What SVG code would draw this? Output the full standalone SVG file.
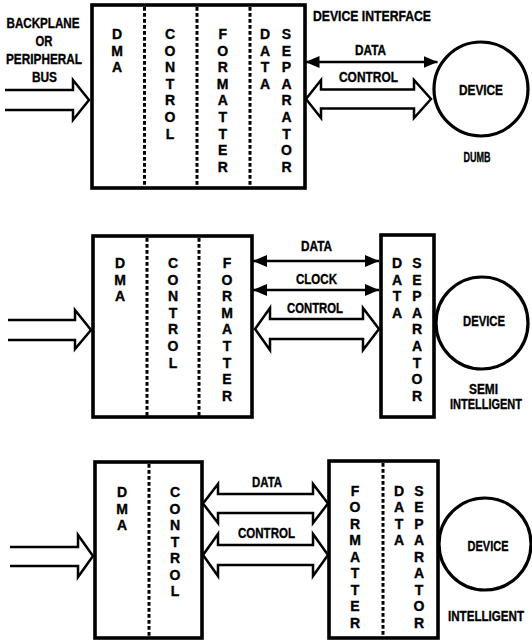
<svg xmlns="http://www.w3.org/2000/svg" width="532" height="643" viewBox="0 0 532 643">
<style>
text{font-family:"Liberation Sans Narrow","Liberation Sans",Arial,sans-serif;font-weight:bold;font-size:14px;fill:#000;stroke:#000;stroke-width:0.35;text-anchor:middle}
.box{fill:#fff;stroke:#000;stroke-width:3.6}
.dash{stroke:#000;stroke-width:3;stroke-dasharray:3.8 2.2;fill:none}
.ln{stroke:#000;stroke-width:2.6;fill:none}
.hol{fill:#fff;stroke:#000;stroke-width:2.5;stroke-linejoin:miter}
.dev{fill:#fff;stroke:#000;stroke-width:3.2}
</style>
<defs>
<marker id="ah" markerUnits="userSpaceOnUse" markerWidth="14" markerHeight="12" refX="14" refY="6" orient="auto-start-reverse">
<path d="M0,0 L14,6 L0,12 z" fill="#000"/>
</marker>
</defs>
<rect width="532" height="643" fill="#fff"/>

<!-- Panel 1 -->
<g id="bus-label-1">
<text x="43" y="27.5" textLength="73" lengthAdjust="spacingAndGlyphs">BACKPLANE</text>
<text x="44" y="46" textLength="17" lengthAdjust="spacingAndGlyphs">OR</text>
<text x="44" y="63.5" textLength="76" lengthAdjust="spacingAndGlyphs">PERIPHERAL</text>
<text x="44.5" y="81.5" textLength="25" lengthAdjust="spacingAndGlyphs">BUS</text>
</g>
<g id="controller-1">
<rect class="box" x="92" y="5" width="213" height="183"/>
<line class="dash" x1="144.5" y1="7" x2="144.5" y2="187"/>
<line class="dash" x1="197" y1="7" x2="197" y2="187"/>
<line class="dash" x1="250" y1="7" x2="250" y2="187"/>
<text><tspan x="117" y="39">D</tspan><tspan x="117" y="55.6">M</tspan><tspan x="117" y="72.2">A</tspan></text>
<text><tspan x="170" y="39">C</tspan><tspan x="170" y="55.6">O</tspan><tspan x="170" y="72.2">N</tspan><tspan x="170" y="88.8">T</tspan><tspan x="170" y="105.4">R</tspan><tspan x="170" y="122">O</tspan><tspan x="170" y="138.6">L</tspan></text>
<text><tspan x="222.7" y="39">F</tspan><tspan x="222.7" y="55.6">O</tspan><tspan x="222.7" y="72.2">R</tspan><tspan x="222.7" y="88.8">M</tspan><tspan x="222.7" y="105.4">A</tspan><tspan x="222.7" y="122">T</tspan><tspan x="222.7" y="138.6">T</tspan><tspan x="222.7" y="155.2">E</tspan><tspan x="222.7" y="171.8">R</tspan></text>
<text><tspan x="265" y="39">D</tspan><tspan x="265" y="55.6">A</tspan><tspan x="265" y="72.2">T</tspan><tspan x="265" y="88.8">A</tspan></text>
<text><tspan x="286.5" y="39">S</tspan><tspan x="286.5" y="55.6">E</tspan><tspan x="286.5" y="72.2">P</tspan><tspan x="286.5" y="88.8">A</tspan><tspan x="286.5" y="105.4">R</tspan><tspan x="286.5" y="122">A</tspan><tspan x="286.5" y="138.6">T</tspan><tspan x="286.5" y="155.2">O</tspan><tspan x="286.5" y="171.8">R</tspan></text>
</g>
<g id="device-1">
<circle class="dev" cx="481" cy="89" r="47"/>
<text x="481" y="95" textLength="44" lengthAdjust="spacingAndGlyphs">DEVICE</text>
<text x="477" y="162" textLength="27" lengthAdjust="spacingAndGlyphs">DUMB</text>
</g>
<g id="labels-1">
<text x="372" y="21" textLength="118" lengthAdjust="spacingAndGlyphs">DEVICE INTERFACE</text>
<text x="370.5" y="54.5" textLength="31" lengthAdjust="spacingAndGlyphs">DATA</text>
<text x="368.5" y="81.5" textLength="59" lengthAdjust="spacingAndGlyphs">CONTROL</text>
</g>

<!-- Panel 2 -->
<g id="controller-2">
<rect class="box" x="93" y="236" width="159" height="181"/>
<line class="dash" x1="147" y1="238" x2="147" y2="416"/>
<line class="dash" x1="199" y1="238" x2="199" y2="416"/>
<text><tspan x="120" y="268">D</tspan><tspan x="120" y="284.6">M</tspan><tspan x="120" y="301.2">A</tspan></text>
<text><tspan x="173" y="268">C</tspan><tspan x="173" y="284.6">O</tspan><tspan x="173" y="301.2">N</tspan><tspan x="173" y="317.8">T</tspan><tspan x="173" y="334.4">R</tspan><tspan x="173" y="351">O</tspan><tspan x="173" y="367.6">L</tspan></text>
<text><tspan x="227" y="268">F</tspan><tspan x="227" y="284.6">O</tspan><tspan x="227" y="301.2">R</tspan><tspan x="227" y="317.8">M</tspan><tspan x="227" y="334.4">A</tspan><tspan x="227" y="351">T</tspan><tspan x="227" y="367.6">T</tspan><tspan x="227" y="384.2">E</tspan><tspan x="227" y="400.8">R</tspan></text>
</g>
<g id="separator-2">
<rect class="box" x="381" y="235" width="53" height="182"/>
<text><tspan x="397" y="268">D</tspan><tspan x="397" y="284.6">A</tspan><tspan x="397" y="301.2">T</tspan><tspan x="397" y="317.8">A</tspan></text>
<text><tspan x="417" y="268">S</tspan><tspan x="417" y="284.6">E</tspan><tspan x="417" y="301.2">P</tspan><tspan x="417" y="317.8">A</tspan><tspan x="417" y="334.4">R</tspan><tspan x="417" y="351">A</tspan><tspan x="417" y="367.6">T</tspan><tspan x="417" y="384.2">O</tspan><tspan x="417" y="400.8">R</tspan></text>
</g>
<g id="device-2">
<circle class="dev" cx="482" cy="323" r="46"/>
<text x="484" y="326" textLength="42" lengthAdjust="spacingAndGlyphs">DEVICE</text>
<text x="483.5" y="393.5" textLength="29" lengthAdjust="spacingAndGlyphs">SEMI</text>
<text x="486" y="409" textLength="72" lengthAdjust="spacingAndGlyphs">INTELLIGENT</text>
</g>
<g id="labels-2">
<text x="316.5" y="250.5" textLength="31" lengthAdjust="spacingAndGlyphs">DATA</text>
<text x="316.5" y="283.5" textLength="41" lengthAdjust="spacingAndGlyphs">CLOCK</text>
<text x="315" y="312.5" textLength="56" lengthAdjust="spacingAndGlyphs">CONTROL</text>
</g>

<!-- Panel 3 -->
<g id="controller-3">
<rect class="box" x="95" y="462" width="107" height="176"/>
<line class="dash" x1="149" y1="464" x2="149" y2="637"/>
<text><tspan x="122" y="497">D</tspan><tspan x="122" y="513.5">M</tspan><tspan x="122" y="530">A</tspan></text>
<text><tspan x="175" y="497">C</tspan><tspan x="175" y="513.5">O</tspan><tspan x="175" y="530">N</tspan><tspan x="175" y="546.5">T</tspan><tspan x="175" y="563">R</tspan><tspan x="175" y="579.5">O</tspan><tspan x="175" y="596">L</tspan></text>
</g>
<g id="formatter-3">
<rect class="box" x="329" y="461" width="109" height="177"/>
<line class="dash" x1="383" y1="463" x2="383" y2="637"/>
<text><tspan x="355" y="495.5">F</tspan><tspan x="355" y="512">O</tspan><tspan x="355" y="528.5">R</tspan><tspan x="355" y="545">M</tspan><tspan x="355" y="561.5">A</tspan><tspan x="355" y="578">T</tspan><tspan x="355" y="594.5">T</tspan><tspan x="355" y="611">E</tspan><tspan x="355" y="627.5">R</tspan></text>
<text><tspan x="399" y="495.5">D</tspan><tspan x="399" y="512">A</tspan><tspan x="399" y="528.5">T</tspan><tspan x="399" y="545">A</tspan></text>
<text><tspan x="419" y="495.5">S</tspan><tspan x="419" y="512">E</tspan><tspan x="419" y="528.5">P</tspan><tspan x="419" y="545">A</tspan><tspan x="419" y="561.5">R</tspan><tspan x="419" y="578">A</tspan><tspan x="419" y="594.5">T</tspan><tspan x="419" y="611">O</tspan><tspan x="419" y="627.5">R</tspan></text>
</g>
<g id="device-3">
<circle class="dev" cx="485" cy="544" r="46"/>
<text x="488" y="551" textLength="41" lengthAdjust="spacingAndGlyphs">DEVICE</text>
<text x="486" y="620.5" textLength="76" lengthAdjust="spacingAndGlyphs">INTELLIGENT</text>
</g>
<g id="labels-3">
<text x="267" y="487" textLength="30" lengthAdjust="spacingAndGlyphs">DATA</text>
<text x="266.5" y="537.5" textLength="57" lengthAdjust="spacingAndGlyphs">CONTROL</text>
</g>

<!-- Connectors -->
<g id="connectors">
<path class="hol" d="M5,90 L73,90 L73,80 L89,100 L73,120 L73,110 L5,110"/>
<line class="ln" x1="305.5" y1="62" x2="437.5" y2="62" marker-start="url(#ah)" marker-end="url(#ah)"/>
<path class="hol" d="M306,99 L321,80 L321,89.5 L414,89.5 L414,80 L431,99 L414,118 L414,108.5 L321,108.5 L321,118 Z"/>

<path class="hol" d="M8,320 L75,320 L75,310 L91,330 L75,349 L75,340 L8,340"/>
<line class="ln" x1="253" y1="261" x2="379" y2="261" marker-start="url(#ah)" marker-end="url(#ah)"/>
<line class="ln" x1="253" y1="290" x2="379" y2="290" marker-start="url(#ah)" marker-end="url(#ah)"/>
<path class="hol" d="M255,329 L270,308 L270,319 L363,319 L363,308 L379,329 L363,350 L363,339 L270,339 L270,350 Z"/>

<path class="hol" d="M10,547 L78,547 L78,535 L93,556 L78,577 L78,566 L10,566"/>
<path class="hol" d="M203,503.5 L218,484 L218,494 L313,494 L313,484 L328,503.5 L313,523 L313,513 L218,513 L218,523 Z"/>
<path class="hol" d="M203,555 L218,534 L218,545 L313,545 L313,534 L328,555 L313,576 L313,565 L218,565 L218,576 Z"/>
</g>
</svg>
